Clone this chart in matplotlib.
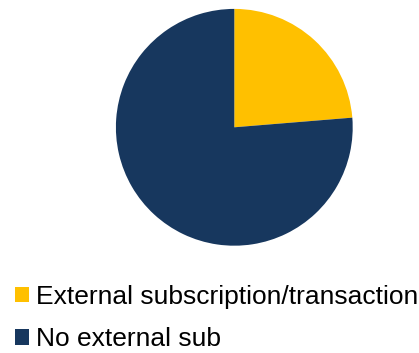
import matplotlib
matplotlib.use("Agg")
import matplotlib.pyplot as plt

labels = ["External subscription/transaction", "No external sub"]
shares = [23.7, 76.3]
colors = ["#FFC000", "#17375E"]

W, H = 419, 353
fig = plt.figure(figsize=(W / 100, H / 100), dpi=100)
plt.rcParams["font.family"] = ["Liberation Sans", "DejaVu Sans"]

# pie centre / radius in pixels
cx, cy, r = 234.3, 127.3, 118.4
ax = fig.add_axes([(cx - r) / W, (H - cy - r) / H, 2 * r / W, 2 * r / H])
wedges, _ = ax.pie(shares, colors=colors, startangle=90, counterclock=False,
                   wedgeprops=dict(linewidth=0))
ax.set_xlim(-1, 1)
ax.set_ylim(-1, 1)
ax.set_aspect("equal")

fig.legend(wedges, labels, loc="upper left",
           bbox_to_anchor=(15 / W, 1 - 285 / H), frameon=False,
           fontsize=19, handlelength=0.53, handleheight=0.53,
           handletextpad=0.27, labelspacing=0.70, borderpad=0,
           borderaxespad=0)

fig.savefig("out.png", dpi=100)
